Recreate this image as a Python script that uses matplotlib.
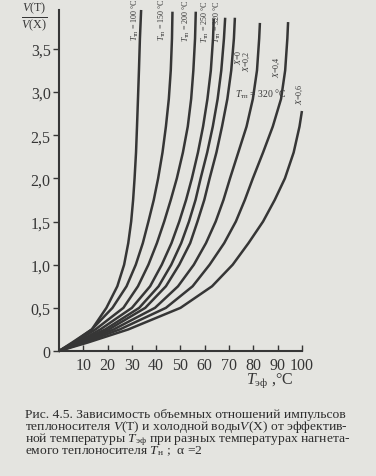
import matplotlib
matplotlib.use("Agg")
import matplotlib.pyplot as plt

plt.rcParams['font.family'] = ['Liberation Serif', 'DejaVu Serif']
plt.rcParams['mathtext.fontset'] = 'custom'
plt.rcParams['mathtext.rm'] = 'Liberation Serif'
plt.rcParams['mathtext.it'] = 'Liberation Serif:italic'

# ratio levels V(T)/V(X) at which effective temperatures were read
y_levels = [0, 0.1, 0.25, 0.5, 0.75, 1.0, 1.25, 1.5, 1.75, 2.0, 2.3, 2.6, 2.92, 3.25, 3.62]

# effective temperature T_эф (°C) of each curve at those levels
t100 = [0, 5.5, 13.5, 19.5, 24, 26.8, 28.5, 29.7, 30.5, 31.1, 31.7, 32.1, 32.5, 32.9, 33.3]
t150 = [0, 6, 13.5, 22, 27.8, 31.6, 34.5, 36.8, 39, 40.8, 42.6, 44, 45.2, 46, 46.5]
t200 = [0, 6.5, 15, 26.5, 32.5, 36.8, 40.3, 43.3, 46, 48.5, 51, 53, 54.4, 55.3, 56]
t250 = [0, 7.5, 17, 30, 37.5, 42.3, 46.3, 49.5, 52.3, 54.7, 57.2, 59.3, 61.1, 62.5, 63.4]
t320 = [0, 8, 19, 33, 41, 46.2, 50.3, 53.5, 56.2, 58.3, 61, 63.3, 65.3, 66.8, 67.9]
x00 = [0, 8.5, 20.5, 35.5, 44, 49.5, 54, 57, 59.8, 62, 64.8, 67.1, 69.3, 70.9, 72]
x02 = [0, 9.5, 22.5, 39.5, 49, 55.5, 60.5, 64.5, 67.7, 70.4, 73.8, 77.2, 79.8, 81.5, 82.4]
x04 = [0, 10.5, 25, 44, 55, 62, 68, 72.8, 76.5, 79.8, 84, 88, 91.4, 93.1, 94]
# top end of each of those curves
top_x = [33.8, 46.7, 56.3, 63.7, 68.4, 72.4, 82.7, 94.3]
top_y = [3.95, 3.93, 3.93, 3.85, 3.86, 3.86, 3.80, 3.81]

# curve X = 0,6 (shorter)
x06_y = [0, 0.1, 0.25, 0.5, 0.75, 1.0, 1.25, 1.5, 1.75, 2.0, 2.3, 2.6, 2.78]
x06 = [0, 12, 28.5, 50, 63, 71.5, 78, 84, 88.8, 93, 96.6, 99, 100]

x_ticks = [10, 20, 30, 40, 50, 60, 70, 80, 90, 100]
y_ticks = [0, 0.5, 1.0, 1.5, 2.0, 2.5, 3.0, 3.5]
y_ticklabels = ['0', '0,5', '1,0', '1,5', '2,0', '2,5', '3,0', '3,5']

curve_labels = [r'$T_{\mathrm{тп}}$ = 100 °C', r'$T_{\mathrm{тп}}$ = 150 °C',
                r'$T_{\mathrm{тп}}$ = 200 °C', r'$T_{\mathrm{тп}}$ = 250 °C',
                r'$T_{\mathrm{тп}}$ = 320 °C', r'$X$=0', r'$X$=0,2', r'$X$=0,4', r'$X$=0,6']

ink = '#363636'
paper = '#e4e4e0'

fig = plt.figure(figsize=(3.76, 4.77), dpi=100, facecolor=paper)
ax = fig.add_axes([0.157, 0.262, 0.646, 0.715])
ax.set_facecolor(paper)

for xs, tx, ty in zip([t100, t150, t200, t250, t320, x00, x02, x04], top_x, top_y):
    ax.plot(list(xs) + [tx], list(y_levels) + [ty], color=ink, lw=1.8,
            solid_capstyle='butt', solid_joinstyle='round', clip_on=False)
ax.plot(x06, x06_y, color=ink, lw=1.8, solid_capstyle='butt',
        solid_joinstyle='round', clip_on=False)

ax.set_xlim(0, 100)
ax.set_ylim(0, 3.95)
for s in ['top', 'right']:
    ax.spines[s].set_visible(False)
for s in ['left', 'bottom']:
    ax.spines[s].set_color(ink)
    ax.spines[s].set_linewidth(1.5)

ax.set_xticks(x_ticks)
ax.set_xticklabels([str(v) for v in x_ticks])
ax.set_yticks(y_ticks)
ax.set_yticklabels(y_ticklabels)
ax.tick_params(axis='x', direction='in', length=4, width=1, color=ink,
               labelsize=11.5, labelcolor=ink, pad=4)
ax.tick_params(axis='y', direction='out', length=4, width=1, color=ink,
               labelsize=11.5, labelcolor=ink, pad=2)

# axis titles
fig.text(34/376, 1 - 18/477, r'$\frac{V(\mathrm{T})}{V(\mathrm{X})}$', fontsize=12.5,
         ha='center', va='center', color=ink)
fig.text(270/376, 1 - 381/477, r'$T_{\mathrm{эф}}$ ,°C', fontsize=11.5,
         ha='center', va='center', color=ink)

# curve labels
label_px = [(135, 20), (162, 20), (186, 21), (205, 22), (217, 22),
            (238, 57), (247, 61), (277, 67), (300, 94)]
for t, (px, py) in zip(curve_labels, label_px):
    fig.text(px/376, 1 - py/477, t, rotation=90, fontsize=5.8, color=ink,
             ha='center', va='center')
fig.text(261/376, 1 - 94/477, r'$T_{\mathrm{тп}}$ = 320 °C', fontsize=7,
         color=ink, ha='center', va='center')

# caption
caption = [
    'Рис. 4.5. Зависимость объемных отношений импульсов',
    r'теплоносителя $V$(Т) и холодной воды$V$(Х) от эффектив-',
    r'ной температуры $T_{\mathrm{эф}}$ при разных температурах нагнета-',
    r'емого теплоносителя $T_{\mathrm{н}}$ ;  α =2',
]
for i, line in enumerate(caption):
    fig.text(25/376, 1 - (415 + 12.2*i)/477, line, fontsize=9.7, color='#2c2c2c',
             ha='left', va='center')

fig.savefig('out.png', dpi=100, facecolor=paper)
